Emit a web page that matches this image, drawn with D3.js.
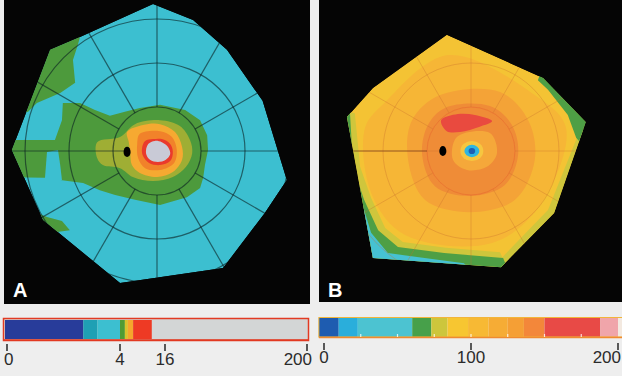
<!DOCTYPE html>
<html><head><meta charset="utf-8">
<script src="https://cdn.jsdelivr.net/npm/d3@7/dist/d3.min.js"></script>
<style>body{margin:0;background:#efefef}svg{display:block}</style>
</head><body>
<svg id="c" width="622" height="376"></svg>
<script>
// ---------- DATA (visual-field coordinates, degrees: x = horizontal, y = vertical) ----------
const ringsDeg = [10, 20, 30];
const spokeAngles = [0, 30, 60, 90, 120, 150, 180, 210, 240, 270, 300, 330];

// Panel A
const fieldA = [[-0.9,33.4],[8.2,29.8],[15.9,23.0],[24.0,11.4],[29.5,-6.6],[24.5,-14.1],[15.0,-26.6],[-8.4,-30.0],[-25.9,-15.7],[-33.0,0.2],[-24.3,23.0],[-17.5,25.9]];
const greenAUpper = [[-26.6,25.2],[-17.5,25.9],[-18.0,24.1],[-19.1,20.7],[-18.6,15.5],[-22.0,13.2],[-27.3,10.9],[-29.3,8.9],[-32.3,8.2],[-36,8]];
const greenABlob = [[-36,2.5],[-23.2,2.5],[-21.6,7.0],[-21.4,10.9],[-17.5,10.9],[-14.1,9.3],[-10.7,8.0],[-7.3,8.9],[-3.9,9.8],[0.7,10.5],[6.4,9.3],[9.8,7.0],[11.4,3.6],[11.6,0.2],[10.9,-3.2],[10.5,-6.1],[9.8,-8.4],[6.8,-10.5],[0.7,-12.3],[-5.0,-11.1],[-9.5,-10.0],[-13.0,-8.9],[-16.8,-7.3],[-22.0,-6.6],[-25.5,-6.1],[-36,-5.9]];
const cyanATongue = [[-25.0,-0.2],[-22.5,0.2],[-22.0,-3.2],[-21.6,-6.6],[-25.5,-6.6]];
const greenALower = [[-27.7,-13.9],[-25.0,-15.0],[-21.6,-15.9],[-19.8,-18.0],[-22.7,-18.4],[-26.6,-17.5]];
const oliveA = [[-13.6,2.0],[-8.4,3.2],[-5.0,6.1],[0.7,7.0],[5.2,5.7],[7.5,2.5],[8.0,-0.5],[6.6,-3.6],[3.6,-5.9],[-0.9,-6.8],[-5.5,-5.9],[-8.4,-3.9],[-12.3,-3.2],[-13.6,-1.6]];
const orangeA = [[-6.8,4.3],[-3.2,5.9],[0.7,6.1],[4.1,4.3],[5.7,0.9],[5.7,-2.0],[3.6,-4.8],[0.0,-5.9],[-3.9,-5.0],[-5.7,-3.2],[-6.1,-0.2],[-6.4,2.0]];
const darkOrangeA = [[-3.9,3.9],[0.7,4.5],[3.4,3.2],[4.5,0.2],[3.9,-2.7],[0.7,-4.3],[-2.7,-3.9],[-4.3,-1.6],[-4.5,1.6]];
const redA = [[-2.7,2.3],[-0.9,2.7],[1.1,2.7],[3.0,1.6],[3.6,-0.2],[3.0,-2.3],[0.7,-3.2],[-1.8,-2.7],[-3.2,-1.1],[-3.4,0.7]];
const grayA = [[-2.0,1.6],[-0.5,2.3],[1.1,2.0],[2.5,0.9],[3.0,-0.7],[2.0,-2.0],[0.2,-2.5],[-1.6,-2.0],[-2.5,-0.5]];
const blindA = [-6.8, -0.2, 0.8, 1.15];

// Panel B
const fieldB = [[-5.5,26.4],[16.4,16.6],[26.1,6.6],[18.9,-14.1],[6.8,-26.4],[-22.3,-24.3],[-28.2,7.7],[-22.3,14.3]];
const yellowGreenBRight = [[27.5,7.0],[20.2,-14.5],[7.7,-27.5],[6.1,-25.2],[17.5,-13.4],[24.3,3.6]];
const greenBRight = [[15.7,17.5],[27.5,7.0],[25.9,0.7],[23.9,3.0],[22.0,8.2],[17.5,13.9],[15.2,16.1]];
const yellowGreenBLeft = [[-29.8,9.3],[-26.4,8.6],[-25.2,-3.6],[-22.7,-10.7],[-19.5,-17.5],[-15.5,-20.7],[-5.7,-22.0],[6.6,-23.0],[8.9,-28.2],[-28.6,-27.0]];
const greenBLeft = [[-29.8,9.3],[-28.6,-27.0],[8.9,-28.2],[7.3,-24.3],[-6.1,-23.2],[-16.6,-21.8],[-21.1,-18.0],[-24.3,-11.1],[-26.8,-3.6],[-27.5,8.6]];
const cyanB = [[-29.8,-6.6],[-28.6,-27.0],[-0.2,-27.0],[-1.6,-25.5],[-18.9,-23.2],[-22.7,-18.6],[-25.0,-11.1],[-25.9,-7.7]];
const lightOrangeB = [[-5.2,21.8],[14.5,12.7],[21.6,5.2],[15.7,-12.3],[4.8,-20.9],[-15.0,-19.1],[-22.5,-10.0],[-24.1,5.2],[-19.5,11.1]];
const orangeB = [[-7.0,12.7],[6.6,13.4],[13.0,7.0],[14.5,-2.0],[10.0,-11.1],[-0.2,-13.9],[-10.5,-11.1],[-14.3,-2.0],[-13.4,7.0]];
const deepOrangeB = [[-5.9,9.8],[4.3,10.2],[9.3,5.9],[10.7,-0.9],[7.7,-7.7],[-0.2,-10.2],[-8.2,-8.0],[-11.1,-0.9],[-9.8,5.9]];
const paleCentreB = [[-3.2,3.2],[4.3,4.1],[5.9,-0.5],[3.6,-3.6],[-0.9,-4.3],[-4.1,-2.0]];
const redB = [[-6.8,7.0],[-3.0,8.4],[0.9,8.2],[4.8,6.8],[2.0,5.5],[-2.5,4.3],[-5.5,4.5]];
const spotB = [0.2, 0, 1.7, 1.4];
const blindB = [-6.4, 0, 0.8, 1.15];

// Colour bars
const barATicks = [0, 4, 16, 200];
const barABreaks = [0, 2.7, 3.2, 4, 5.3, 6.1, 7.5, 12.5, 14.7, 200];
const barAColors = ["#283c9a","#1fa0b4","#3cbfd0","#4f9b34","#d9c22a","#f5a52d","#ee3a24","#d3d6d6"];
const barBTicks = [0, 100, 200];
const barBMinor = [25, 50, 75, 100, 125, 150, 175];
const barBBreaks = [-3.5, 10, 23, 60, 73, 84, 98, 112, 125, 136, 150, 188, 200];
const barBColors = ["#1e5cb0","#2aaedb","#4cc3d1","#47a04a","#cdc63c","#f7c631","#f7b934","#f6ac35","#f59f35","#f3873a","#e84a46","#f0a5aa"];

// ---------- DRAWING ----------
const svg = d3.select("#c");
svg.append("rect").attr("width",622).attr("height",376).attr("fill","#eeeeee");

function panel(opt){
  const g = svg.append("g");
  g.append("rect").attr("x",opt.bx).attr("y",0).attr("width",opt.bw).attr("height",opt.bh).attr("fill","#050505");
  const x = d3.scaleLinear().domain([-40,40]).range([opt.cx-176, opt.cx+176]);
  const y = d3.scaleLinear().domain([-40,40]).range([opt.cy+176, opt.cy-176]);
  const line = d3.line().x(d=>x(d[0])).y(d=>y(d[1])).curve(d3.curveLinearClosed);
  const smooth = d3.line().x(d=>x(d[0])).y(d=>y(d[1])).curve(d3.curveCatmullRomClosed.alpha(0.5));
  g.append("clipPath").attr("id",opt.id).append("path").attr("d",line(opt.field));
  const c = g.append("g").attr("clip-path",`url(#${opt.id})`);
  c.append("path").attr("d",line(opt.field)).attr("fill",opt.base);
  opt.layers.forEach(l=>c.append("path").attr("d",(l.smooth?smooth:line)(l.pts)).attr("fill",l.color));
  // grid
  const r = d => x(d) - x(0);
  const gg = c.append("g").attr("fill","none").attr("stroke",opt.grid).attr("stroke-opacity",opt.gridOp).attr("stroke-width",opt.gridW);
  ringsDeg.forEach((d,i)=>gg.append("circle").attr("cx",x(0)).attr("cy",y(0)).attr("r",r(d))
     .attr("stroke", i===0 && opt.innerRing ? opt.innerRing : opt.grid));
  spokeAngles.forEach(a=>{
    const t = a*Math.PI/180, r0 = 10, r1 = 48;
    gg.append("line").attr("x1",x(r0*Math.cos(t))).attr("y1",y(r0*Math.sin(t)))
      .attr("x2",x(r1*Math.cos(t))).attr("y2",y(r1*Math.sin(t)))
      .attr("stroke", a===180 && opt.meridian ? opt.meridian : opt.grid)
      .attr("stroke-opacity", a===180 && opt.meridian ? 0.8 : opt.gridOp);
  });
  gg.append("line").attr("x1",x(-10)).attr("y1",y(0)).attr("x2",x(-7)).attr("y2",y(0));
  (opt.spots||[]).forEach(s=>c.append("ellipse").attr("cx",x(s.d[0])).attr("cy",y(s.d[1]))
     .attr("rx",r(s.d[2])).attr("ry",r(s.d[3])).attr("fill",s.color));
  g.append("text").attr("x",opt.bx+9).attr("y",297).text(opt.label)
   .attr("fill","#ffffff").attr("font-family","Liberation Sans, Arial, sans-serif").attr("font-weight","bold").attr("font-size",20);
}

panel({id:"clipA", bx:4, bw:306, bh:304, cx:157, cy:151, field:fieldA, base:"#3cbfd0", label:"A",
  grid:"#0a1f22", gridOp:0.6, gridW:1.2,
  layers:[
    {pts:greenAUpper, color:"#4d9a3c"},
    {pts:greenABlob, color:"#4d9a3c"},
    {pts:cyanATongue, color:"#3cbfd0"},
    {pts:greenALower, color:"#4d9a3c"},
    {pts:oliveA, color:"#9fae34", smooth:true},
    {pts:orangeA, color:"#f6a931", smooth:true},
    {pts:darkOrangeA, color:"#f1822a", smooth:true},
    {pts:redA, color:"#ea3a2c", smooth:true},
    {pts:grayA, color:"#c9cad6", smooth:true}
  ],
  spots:[{d:blindA, color:"#000"}]
});

panel({id:"clipB", bx:319, bw:303, bh:302, cx:471, cy:151, field:fieldB, base:"#f4c334", label:"B",
  grid:"#c8702e", gridOp:0.35, gridW:1, innerRing:"#e2522c", meridian:"#7a3a1a",
  layers:[
    {pts:yellowGreenBRight, color:"#cfc63c"},
    {pts:greenBRight, color:"#4e9f45"},
    {pts:yellowGreenBLeft, color:"#cfc63c"},
    {pts:greenBLeft, color:"#4e9f45"},
    {pts:cyanB, color:"#46c2d2"},
    {pts:lightOrangeB, color:"#f6b636", smooth:true},
    {pts:orangeB, color:"#f4a337", smooth:true},
    {pts:deepOrangeB, color:"#ef8c37", smooth:true},
    {pts:paleCentreB, color:"#f5a83a", smooth:true},
    {pts:redB, color:"#e94a3f", smooth:true}
  ],
  spots:[{d:[spotB[0],spotB[1],2.6,2.3], color:"#f6c640"},{d:spotB, color:"#2fb6e0"},{d:[spotB[0],spotB[1],0.75,0.7], color:"#1d5fb5"},{d:blindB, color:"#000"}]
});

// colour bar A (piecewise scale)
const sA = d3.scaleLinear().domain([0,4,16,200]).range([7,120,165,307]);
const gA = svg.append("g");
gA.append("rect").attr("x",3.5).attr("y",318.5).attr("width",305).attr("height",22).attr("fill","#d3d6d6").attr("stroke","#e23a22").attr("stroke-width",1.5);
barAColors.forEach((col,i)=>{
  const x0 = i===0 ? 5 : sA(barABreaks[i]), x1 = i===barAColors.length-1 ? 307 : sA(barABreaks[i+1]);
  gA.append("rect").attr("x",x0).attr("y",320).attr("width",x1-x0).attr("height",19).attr("fill",col);
});
gA.append("line").attr("x1",4).attr("x2",308).attr("y1",340).attr("y2",340).attr("stroke","#e23a22").attr("stroke-width",1.5);
barATicks.forEach((t,i)=>{
  gA.append("line").attr("x1",sA(t)).attr("x2",sA(t)).attr("y1",344).attr("y2",351).attr("stroke","#333").attr("stroke-width",1.6);
  const anchor = i===0 ? "start" : (i===barATicks.length-1 ? "end" : "middle");
  const tx = i===0 ? sA(t)-3 : (i===barATicks.length-1 ? sA(t)+5 : sA(t));
  gA.append("text").attr("x",tx).attr("y",365).attr("text-anchor",anchor).text(t)
    .attr("font-family","Liberation Sans, Arial, sans-serif").attr("font-size",17).attr("fill","#2b2b2b");
});

// colour bar B (linear scale)
const sB = d3.scaleLinear().domain([0,200]).range([324,618]);
const gB = svg.append("g");
barBColors.forEach((col,i)=>{
  const x0 = sB(barBBreaks[i]), x1 = sB(barBBreaks[i+1]);
  gB.append("rect").attr("x",x0).attr("y",318).attr("width",x1-x0).attr("height",19).attr("fill",col);
});
gB.append("rect").attr("x",sB(200)).attr("y",318).attr("width",6).attr("height",19).attr("fill","#f3e9e0");
gB.append("rect").attr("x",sB(-3.5)).attr("y",317.5).attr("width",305).attr("height",19.5).attr("fill","none").attr("stroke","#f2b53a").attr("stroke-width",1);
gB.append("line").attr("x1",sB(-3.5)).attr("x2",622).attr("y1",337.5).attr("y2",337.5).attr("stroke","#f08a30").attr("stroke-width",1.5);
barBMinor.forEach(t=>gB.append("line").attr("x1",sB(t)).attr("x2",sB(t)).attr("y1",334).attr("y2",337)
  .attr("stroke","#ffffff").attr("stroke-opacity",0.8).attr("stroke-width",1.2));
barBTicks.forEach((t,i)=>{
  const last = i===barBTicks.length-1;
  gB.append("line").attr("x1",sB(t)).attr("x2",sB(t)).attr("y1",343).attr("y2",350).attr("stroke","#333").attr("stroke-width",1.6);
  gB.append("text").attr("x",last ? 621 : sB(t)).attr("y",363).attr("text-anchor",last ? "end" : "middle").text(t)
    .attr("font-family","Liberation Sans, Arial, sans-serif").attr("font-size",17).attr("fill","#2b2b2b");
});
</script>
</body></html>
